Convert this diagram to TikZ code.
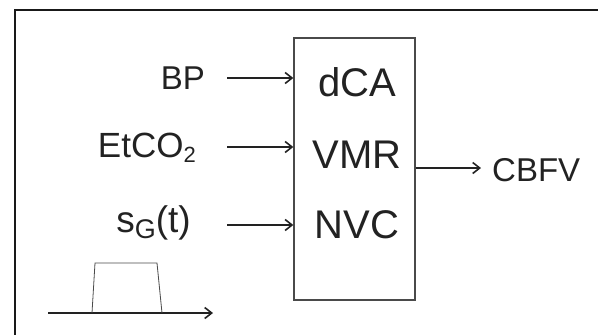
\documentclass[tikz,border=0pt]{standalone}
\usepackage{fontspec}
\setmainfont{Liberation Sans}
\usepackage{tikz}
\usetikzlibrary{calc,arrows.meta}

\definecolor{ink}{HTML}{222222}
\definecolor{boxline}{HTML}{4A4A4A}

\tikzset{
  lab/.style={text=ink, inner sep=0pt, font=\fontsize{33}{36}\selectfont},
  mech/.style={text=ink, inner sep=0pt, font=\fontsize{40}{44}\selectfont},
  sig/.style={-{Straight Barb[length=7pt, width=11pt, line width=1.6pt]}, draw=ink, line width=1.7pt},
}

\begin{document}
\begin{tikzpicture}[x=1pt, y=-1pt]
  \useasboundingbox (0,0) rectangle (598,335);
  % ---------- frame (top and left only) ----------
  \draw[black!90, line width=2.8pt] (15,335) -- (15,10) -- (598,10);
  % ---------- the model box ----------
  \node[draw=boxline, line width=1.3pt, minimum width=121pt, minimum height=262pt,
        inner sep=0pt] (model) at (354.5,169) {};
  \node[mech] (dca) at (357,82) {dCA};
  \node[mech] (vmr) at (357,155) {VMR};
  \node[mech] (nvc) at (357,225) {NVC};
  % ---------- inputs ----------
  \node[lab, anchor=east] (bp) at (205,78) {BP};
  \node[lab, anchor=east, font=\fontsize{35}{38}\selectfont] (etco) at (196,148)
    {EtCO\raisebox{-0.3ex}{\fontsize{22}{22}\selectfont 2}};
  \node[lab, anchor=east, font=\fontsize{37}{40}\selectfont] (sg) at (191,223)
    {s\raisebox{-0.3ex}{\fontsize{27}{27}\selectfont G}(t)};
  \coordinate (bp-in) at (227,78);
  \coordinate (etco-in) at (227,147);
  \coordinate (sg-in) at (227,225);
  \draw[sig] (bp-in) -- (bp-in -| model.west);
  \draw[sig] (etco-in) -- (etco-in -| model.west);
  \draw[sig] (sg-in) -- (sg-in -| model.west);
  % ---------- output ----------
  \node[lab, anchor=west] (cbfv) at (492,170) {CBFV};
  \draw[sig, shorten >=11pt] (model.east |- 0,168) -- (cbfv.west |- 0,168);
  % ---------- the pulse s_G(t) ----------
  \draw[sig] (48,313) -- (213,313);
  \draw[boxline, line width=0.8pt] (92,313) -- (95,263) -- (157,263) -- (162,313);
\end{tikzpicture}
\end{document}
